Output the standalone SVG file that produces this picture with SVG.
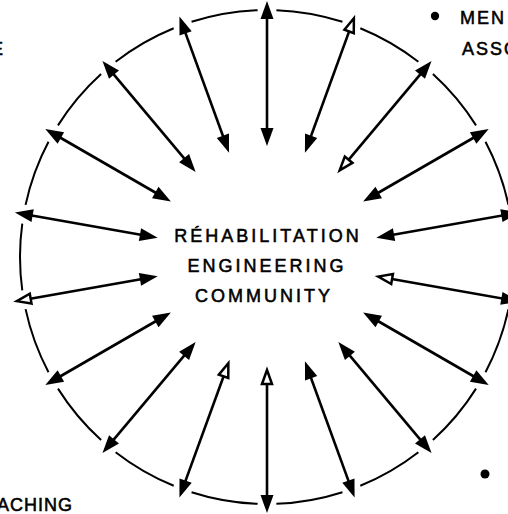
<svg xmlns="http://www.w3.org/2000/svg" width="508" height="514" viewBox="0 0 508 514">
<style>
  text { font-family: "Liberation Sans", Arial, sans-serif; font-size: 18px; fill: #000; stroke: #000; stroke-width: 0.55px; }
  .center { text-anchor: middle; letter-spacing: 3px; }
  .edge { letter-spacing: 2px; }
  .arrow { stroke: #000; stroke-width: 2.6; fill: none; marker-start: url(#head); marker-end: url(#head); }
  .ring { fill: none; stroke: #000; stroke-width: 2; stroke-dasharray: 15.6 4.4; stroke-dashoffset: 7.8; }
</style>
<defs>
  <marker id="head" markerUnits="userSpaceOnUse" orient="auto-start-reverse" refX="8" refY="0" markerWidth="20" markerHeight="20" overflow="visible">
    <path d="M0,-6.5 L18,0 L0,6.5 z" fill="#000"/>
  </marker>
  <marker id="open" markerUnits="userSpaceOnUse" orient="auto-start-reverse" refX="8" refY="0" markerWidth="20" markerHeight="20" overflow="visible">
    <path d="M2,-5 L16,0 L2,5 z" fill="#fff" stroke="#000" stroke-width="2.5"/>
  </marker>
</defs>
<rect width="508" height="514" fill="#fff"/>

<g id="ring">
  <circle class="ring" cx="267" cy="257" r="247" pathLength="360"/>
</g>

<g id="connectors">
  <line class="arrow" x1="267" y1="11" x2="267" y2="136"/>
  <line class="arrow" x1="351.14" y1="25.84" x2="308.38" y2="143.30" style="marker-start:url(#open)"/>
  <line class="arrow" x1="425.13" y1="68.55" x2="344.78" y2="164.31" style="marker-end:url(#open)"/>
  <line class="arrow" x1="480.04" y1="134" x2="371.79" y2="196.5"/>
  <line class="arrow" x1="509.26" y1="214.28" x2="386.16" y2="235.99"/>
  <line class="arrow" x1="509.26" y1="299.72" x2="386.16" y2="278.01" style="marker-end:url(#open)"/>
  <line class="arrow" x1="480.04" y1="380" x2="371.79" y2="317.5"/>
  <line class="arrow" x1="425.13" y1="445.45" x2="344.78" y2="349.69"/>
  <line class="arrow" x1="351.14" y1="488.16" x2="308.38" y2="370.70"/>
  <line class="arrow" x1="267" y1="503" x2="267" y2="378" style="marker-end:url(#open)"/>
  <line class="arrow" x1="182.86" y1="488.16" x2="225.62" y2="370.70" style="marker-end:url(#open)"/>
  <line class="arrow" x1="108.87" y1="445.45" x2="189.22" y2="349.69"/>
  <line class="arrow" x1="53.96" y1="380" x2="162.21" y2="317.5"/>
  <line class="arrow" x1="24.74" y1="299.72" x2="147.84" y2="278.01" style="marker-start:url(#open)"/>
  <line class="arrow" x1="24.74" y1="214.28" x2="147.84" y2="235.99"/>
  <line class="arrow" x1="53.96" y1="134" x2="162.21" y2="196.5"/>
  <line class="arrow" x1="108.87" y1="68.55" x2="189.22" y2="164.31"/>
  <line class="arrow" x1="182.86" y1="25.84" x2="225.62" y2="143.30"/>
</g>

<g id="community">
  <text class="center" x="268" y="242">RÉHABILITATION</text>
  <text class="center" x="267" y="272">ENGINEERING</text>
  <text class="center" x="264" y="302">COMMUNITY</text>
</g>

<g id="label-top-left">
  <text x="-9" y="55">E</text>
</g>

<g id="label-top-right">
  <circle cx="435" cy="16" r="4.2" fill="#000"/>
  <text class="edge" x="460" y="24">MEN</text>
  <text class="edge" x="462" y="55">ASSO</text>
</g>

<g id="label-bottom-left">
  <text class="edge" x="-3" y="511" style="letter-spacing:1px">ACHING</text>
</g>

<g id="label-bottom-right">
  <circle cx="485" cy="474" r="4.5" fill="#000"/>
</g>
</svg>
